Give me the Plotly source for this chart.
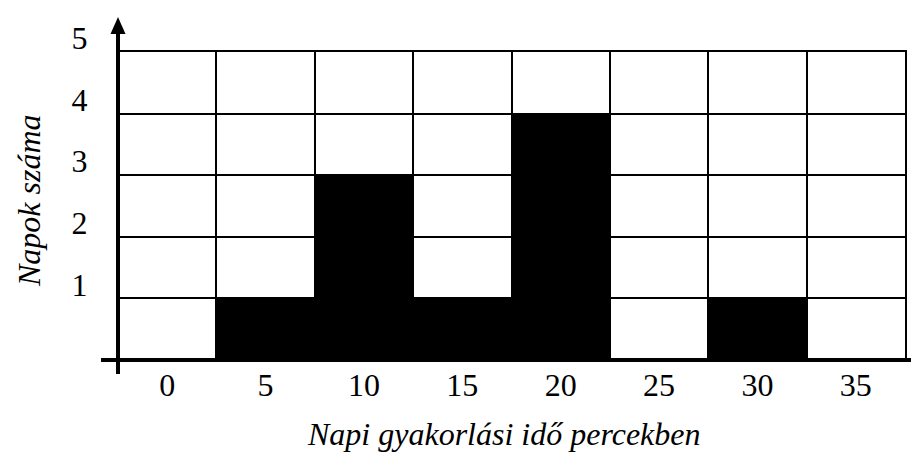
import plotly.graph_objects as go

minutes = [0, 5, 10, 15, 20, 25, 30, 35]
days = [0, 1, 3, 1, 4, 0, 1, 0]
y_ticks = [1, 2, 3, 4, 5]
x_title = "Napi gyakorlási idő percekben"
y_title = "Napok száma"

W, H = 919, 455
L, R, T, B = 110, 22, 44, 103
PW, PH = W - L - R, H - T - B

def px(x):
    return (x - L) / PW

def py(y):
    return (H - B - y) / PH

FONT = "Liberation Serif"

fig = go.Figure(go.Bar(
    x=minutes, y=days, width=5,
    marker=dict(color="black", line=dict(width=0)),
    hoverinfo="skip",
))

shapes = [
    dict(type="line", xref="paper", yref="paper", x0=px(110), x1=px(110), y0=py(366), y1=py(24),
         line=dict(color="black", width=4), layer="above"),
    dict(type="path", xref="paper", yref="paper",
         path=f"M {px(110)} {py(9)} L {px(102.5)} {py(26)} L {px(117.5)} {py(26)} Z",
         fillcolor="black", line=dict(width=0), layer="above"),
    dict(type="line", xref="paper", yref="paper", x0=px(93), x1=px(907), y0=py(352), y1=py(352),
         line=dict(color="black", width=4), layer="above"),
    dict(type="path", xref="paper", yref="paper",
         path=f"M {px(919)} {py(352)} L {px(904)} {py(344.5)} L {px(904)} {py(359.5)} Z",
         fillcolor="black", line=dict(width=0), layer="above"),
]

fig.update_layout(
    width=W, height=H,
    margin=dict(l=L, r=R, t=T, b=B, pad=0),
    paper_bgcolor="white", plot_bgcolor="white",
    bargap=0, showlegend=False,
    font=dict(family=FONT, size=32, color="black"),
    shapes=shapes,
    annotations=[
        dict(text=x_title, xref="paper", yref="paper", x=px(496), y=py(426),
             xanchor="center", yanchor="middle", showarrow=False,
             font=dict(family=FONT, size=32, color="black", style="italic")),
        dict(text=y_title, xref="paper", yref="paper", x=px(21), y=py(193),
             xanchor="center", yanchor="middle", showarrow=False, textangle=-90,
             font=dict(family=FONT, size=32, color="black", style="italic")),
    ],
)

fig.update_xaxes(
    range=[-2.5, 37.5], tickmode="array", tickvals=minutes, ticktext=[str(m) for m in minutes],
    showgrid=False, zeroline=False, showline=True, mirror=True, linecolor="black", linewidth=2,
    ticks="", ticklabelstandoff=-4,
    minor=dict(tick0=2.5, dtick=5, showgrid=True, gridcolor="black", gridwidth=2, ticks=""),
    fixedrange=True,
)
fig.update_yaxes(
    range=[0, 5], tickmode="array", tickvals=y_ticks, ticktext=[str(v) for v in y_ticks],
    showgrid=True, gridcolor="black", gridwidth=2, zeroline=False,
    showline=True, mirror=True, linecolor="black", linewidth=2,
    ticks="", ticklabelstandoff=22, ticklabelshift=-14, fixedrange=True,
)

fig.write_html("out.html", config={"displayModeBar": False})
